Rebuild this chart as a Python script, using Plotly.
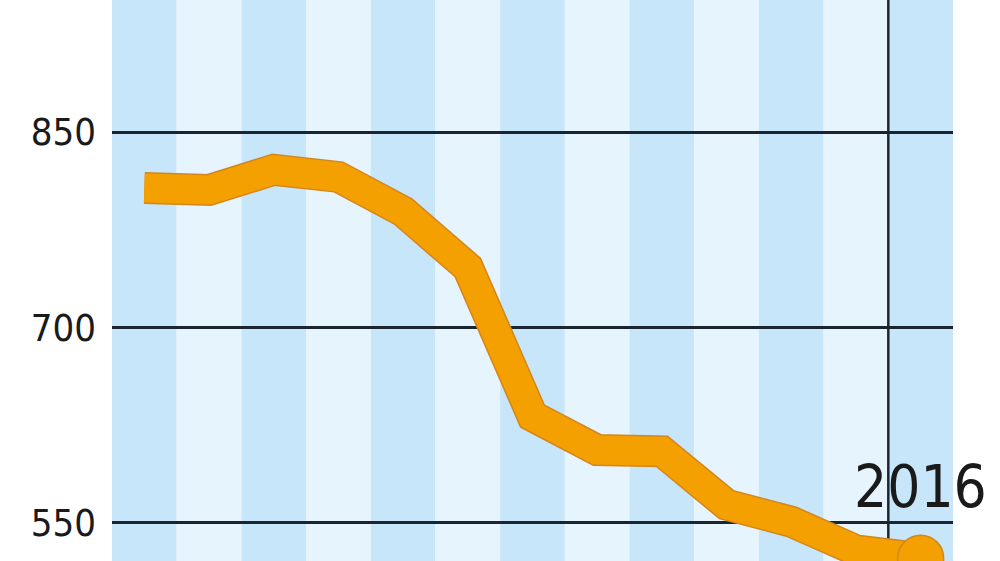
import plotly.graph_objects as go

years = [2004, 2005, 2006, 2007, 2008, 2009, 2010, 2011, 2012, 2013, 2014, 2015, 2016]
values = [807, 805.5, 821, 815.5, 789, 746, 632, 606, 605, 564, 551, 529, 523]
tick_vals = [550, 700, 850]
tick_text = ["550", "700", "850"]

band_dark = "#c8e6f9"
band_light = "#e6f5fd"
orange = "#f4a000"
orange_edge = "#d4861c"
ink = "#1b2530"
font_name = "DejaVu Sans Condensed, sans-serif"

fig = go.Figure()

# outline under the thick line
fig.add_trace(go.Scatter(x=years, y=values, mode="lines",
                         line=dict(color=orange_edge, width=32),
                         hoverinfo="skip", showlegend=False))
fig.add_trace(go.Scatter(x=years, y=values, mode="lines",
                         line=dict(color=orange, width=29),
                         showlegend=False))
# end dot
fig.add_trace(go.Scatter(x=[years[-1]], y=[values[-1]], mode="markers",
                         marker=dict(size=46, color=orange,
                                     line=dict(color=orange_edge, width=1.5)),
                         showlegend=False, cliponaxis=False))

# alternating year bands
for i, yr in enumerate(years):
    fig.add_shape(type="rect", xref="x", yref="paper",
                  x0=yr - 0.5, x1=yr + 0.5, y0=0, y1=1,
                  fillcolor=band_dark if i % 2 == 0 else band_light,
                  line_width=0, layer="below")

# vertical marker line before the last year
fig.add_shape(type="line", xref="x", yref="paper",
              x0=years[-1] - 0.5, x1=years[-1] - 0.5, y0=0, y1=1,
              line=dict(color=ink, width=2.5), layer="between")

fig.add_annotation(x=years[-1], y=values[-1], text="2016",
                   showarrow=False, yshift=71,
                   font=dict(family=font_name, size=58, color="#1a1a1a"))

fig.update_layout(
    width=1000, height=561,
    margin=dict(l=112, r=47, t=0, b=0),
    paper_bgcolor="white", plot_bgcolor="white",
    showlegend=False,
    xaxis=dict(range=[2003.5, 2016.5], showgrid=False, zeroline=False,
               showticklabels=False, showline=False),
    yaxis=dict(range=[520.8, 951.3], tickvals=tick_vals, ticktext=tick_text,
               showgrid=True, gridcolor=ink, gridwidth=3, zeroline=False,
               showline=False, ticks="", ticklabelstandoff=15,
               tickfont=dict(family=font_name, size=38, color="#1a1a1a")),
)

# drop the page's default body margin so the chart sits at the corner
fig.write_html("out.html", config={"displayModeBar": False},
               post_script="document.body.style.margin='0';")
